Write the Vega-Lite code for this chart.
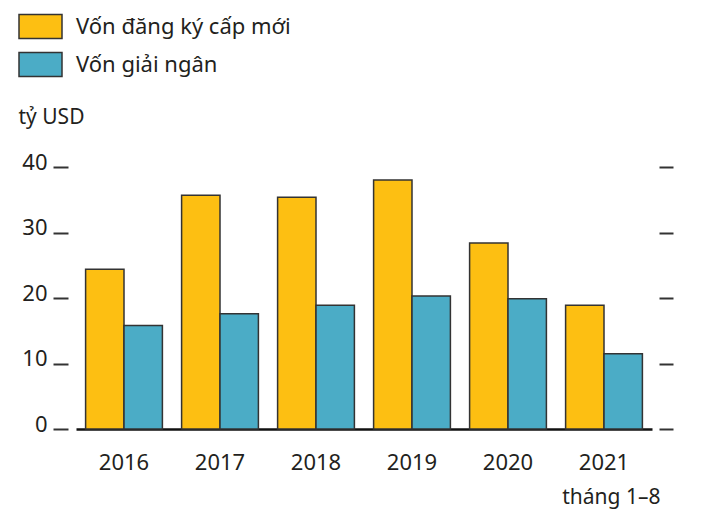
{
  "$schema": "https://vega.github.io/schema/vega-lite/v6.json",
  "width": 576,
  "height": 262,
  "autosize": {"type": "none"},
  "padding": {"left": 76, "top": 167, "right": 51, "bottom": 103},
  "background": "white",
  "config": {
    "view": {"stroke": null},
    "font": "Noto Sans",
    "text": {"color": "#231F20"}
  },
  "data": {
    "values": [
      {"year": "2016", "series": "Vốn đăng ký cấp mới", "order": 1, "value": 24.4},
      {"year": "2016", "series": "Vốn giải ngân", "order": 2, "value": 15.8},
      {"year": "2017", "series": "Vốn đăng ký cấp mới", "order": 1, "value": 35.7},
      {"year": "2017", "series": "Vốn giải ngân", "order": 2, "value": 17.6},
      {"year": "2018", "series": "Vốn đăng ký cấp mới", "order": 1, "value": 35.4},
      {"year": "2018", "series": "Vốn giải ngân", "order": 2, "value": 18.9},
      {"year": "2019", "series": "Vốn đăng ký cấp mới", "order": 1, "value": 38.0},
      {"year": "2019", "series": "Vốn giải ngân", "order": 2, "value": 20.3},
      {"year": "2020", "series": "Vốn đăng ký cấp mới", "order": 1, "value": 28.4},
      {"year": "2020", "series": "Vốn giải ngân", "order": 2, "value": 19.9},
      {"year": "2021", "series": "Vốn đăng ký cấp mới", "order": 1, "value": 18.9},
      {"year": "2021", "series": "Vốn giải ngân", "order": 2, "value": 11.5}
    ]
  },
  "encoding": {
    "x": {
      "field": "year",
      "type": "nominal",
      "scale": {"paddingInner": 0.2, "paddingOuter": 0.1},
      "axis": {
        "labelAngle": 0,
        "labelFontSize": 22,
        "labelColor": "#231F20",
        "labelPadding": 33,
        "labelBaseline": "middle",
        "ticks": false,
        "tickSize": 0,
        "domain": true,
        "domainColor": "#111111",
        "domainWidth": 2.5,
        "title": "tháng 1–8",
        "titleFontSize": 21,
        "titleFontWeight": "normal",
        "titleColor": "#231F20",
        "titleAnchor": "end",
        "titleAlign": "right",
        "titleX": 584,
        "titleY": 68,
        "titleBaseline": "middle"
      }
    },
    "xOffset": {"field": "series", "type": "nominal", "sort": ["Vốn đăng ký cấp mới", "Vốn giải ngân"]},
    "y": {
      "field": "value",
      "type": "quantitative",
      "scale": {"domain": [0, 40], "nice": false}
    }
  },
  "layer": [
    {
      "mark": {"type": "bar", "stroke": "#333333", "strokeWidth": 1.5},
      "encoding": {
        "y": {
          "field": "value",
          "type": "quantitative",
          "scale": {"domain": [0, 40], "nice": false},
          "axis": {
            "orient": "left",
            "values": [0, 10, 20, 30, 40],
            "grid": false,
            "domain": false,
            "offset": 8,
            "tickSize": 15,
            "tickWidth": 2,
            "tickColor": "#333333",
            "labelFontSize": 22,
            "labelColor": "#231F20",
            "labelPadding": 6,
            "labelBaseline": "alphabetic",
            "labelOffset": 2,
            "title": "tỷ USD",
            "titleAngle": 0,
            "titleFontSize": 21,
            "titleFontWeight": "normal",
            "titleColor": "#231F20",
            "titleAlign": "left",
            "titleBaseline": "middle",
            "titleX": -50,
            "titleY": -50
          }
        },
        "color": {
          "field": "series",
          "type": "nominal",
          "sort": ["Vốn đăng ký cấp mới", "Vốn giải ngân"],
          "scale": {"domain": ["Vốn đăng ký cấp mới", "Vốn giải ngân"], "range": ["#FDBF12", "#4BACC6"]},
          "legend": {
            "orient": "none",
            "legendX": -58,
            "legendY": -163,
            "title": null,
            "padding": 0,
            "symbolType": "M-1,-0.56H1V0.56H-1Z",
            "symbolSize": 1849,
            "symbolStrokeColor": "#333333",
            "symbolStrokeWidth": 1.5,
            "symbolOpacity": 1,
            "labelFontSize": 22,
            "labelColor": "#231F20",
            "labelOffset": 13,
            "labelLimit": 500,
            "rowPadding": 0
          }
        }
      }
    },
    {
      "mark": {"type": "bar", "opacity": 0},
      "encoding": {
        "y": {
          "field": "value",
          "type": "quantitative",
          "scale": {"domain": [0, 40], "nice": false},
          "axis": {
            "orient": "right",
            "values": [0, 10, 20, 30, 40],
            "grid": false,
            "domain": false,
            "labels": false,
            "offset": 7,
            "tickSize": 14,
            "tickWidth": 2,
            "tickColor": "#333333",
            "title": null
          }
        }
      }
    }
  ],
  "resolve": {"axis": {"y": "independent"}}
}
